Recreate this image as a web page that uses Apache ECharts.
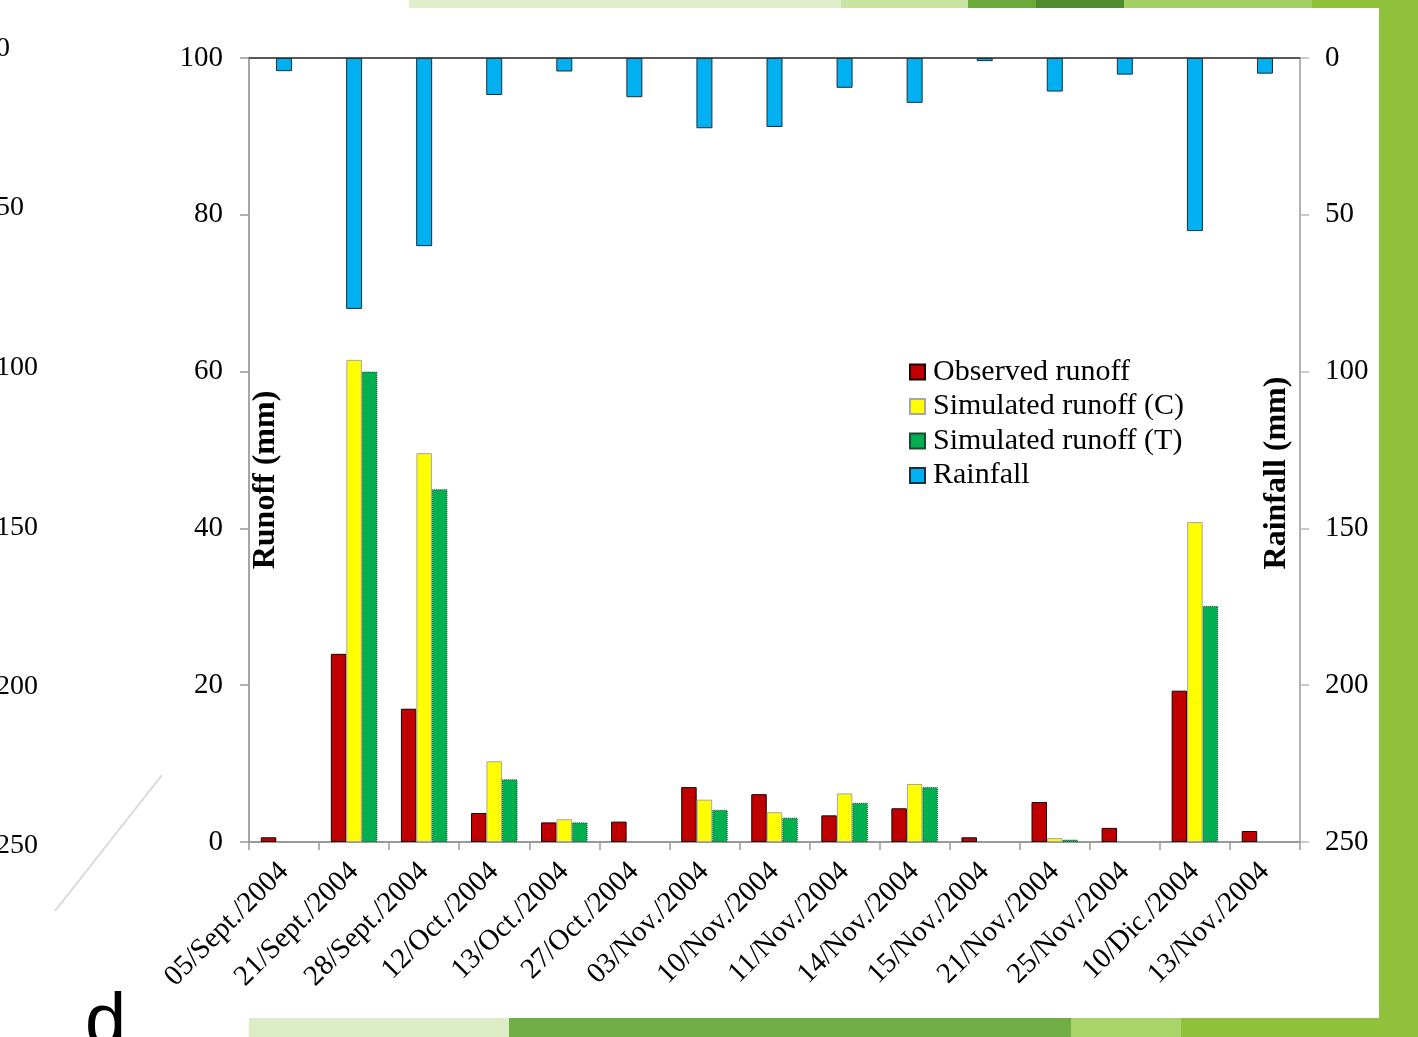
<!DOCTYPE html>
<html>
<head>
<meta charset="utf-8">
<script src="https://cdn.jsdelivr.net/npm/echarts@6/dist/echarts.min.js"></script>
<style>
html,body{margin:0;padding:0;background:#fff;}
#c{width:1418px;height:1037px;}
</style>
</head>
<body>
<div id="c"></div>
<script>
const categories = ['05/Sept./2004','21/Sept./2004','28/Sept./2004','12/Oct./2004','13/Oct./2004','27/Oct./2004','03/Nov./2004','10/Nov./2004','11/Nov./2004','14/Nov./2004','15/Nov./2004','21/Nov./2004','25/Nov./2004','10/Dic./2004','13/Nov./2004'];
const observedRunoff = [0.6, 24.0, 17.0, 3.7, 2.5, 2.6, 7.0, 6.1, 3.4, 4.3, 0.6, 5.1, 1.8, 19.3, 1.4];
const simulatedC = [null, 61.5, 49.6, 10.3, 2.9, null, 5.4, 3.8, 6.2, 7.4, null, 0.5, null, 40.8, null];
const simulatedT = [null, 60.0, 45.0, 8.0, 2.5, null, 4.1, 3.1, 5.0, 7.0, null, 0.3, null, 30.1, null];
const rainfall = [4.2, 80, 60, 11.8, 4.3, 12.5, 22.4, 22.0, 9.5, 14.3, 1.0, 10.7, 5.3, 55.2, 5.0];
const runoffTicks = {min: 0, max: 100, interval: 20};
const rainTicks = {min: 0, max: 250, interval: 50};
const strayTickLabels = ['0', '50', '100', '150', '200', '250'];

const serif = '"Liberation Serif", "Times New Roman", serif';
const chart = echarts.init(document.getElementById('c'), null, {renderer: 'canvas'});

const strayY = [49, 208, 368, 528, 687, 846];
const graphics = [
  // slide decoration bands
  {type:'rect', shape:{x:409,y:0,width:432,height:8}, style:{fill:'#dfeecb'}},
  {type:'rect', shape:{x:841,y:0,width:127,height:8}, style:{fill:'#c9e3a3'}},
  {type:'rect', shape:{x:968,y:0,width:68,height:8}, style:{fill:'#6aaa3a'}},
  {type:'rect', shape:{x:1036,y:0,width:88,height:8}, style:{fill:'#4f8b2b'}},
  {type:'rect', shape:{x:1124,y:0,width:188,height:8}, style:{fill:'#a2d065'}},
  {type:'rect', shape:{x:1312,y:0,width:106,height:8}, style:{fill:'#8fc13a'}},
  {type:'rect', shape:{x:1379,y:0,width:39,height:1037}, style:{fill:'#8fc13a'}},
  {type:'rect', shape:{x:249,y:1018,width:260,height:19}, style:{fill:'#dcedc6'}},
  {type:'rect', shape:{x:509,y:1018,width:562,height:19}, style:{fill:'#70ad44'}},
  {type:'rect', shape:{x:1071,y:1018,width:110,height:19}, style:{fill:'#a8d46a'}},
  {type:'rect', shape:{x:1181,y:1018,width:237,height:19}, style:{fill:'#8fc23a'}},
  {type:'line', shape:{x1:162,y1:775,x2:55,y2:911}, style:{stroke:'#d9d9d9', lineWidth:2}},
  {type:'text', x:85, y:1062, style:{text:'d', font:'74px "Liberation Sans", Arial, sans-serif', fill:'#000', textAlign:'left', textVerticalAlign:'bottom'}},
  // axis titles
  {type:'text', x:266, y:480, rotation:Math.PI/2, style:{text:'Runoff (mm)', font:'bold 32px ' + serif, fill:'#000', textAlign:'center', textVerticalAlign:'middle'}},
  {type:'text', x:1277, y:473, rotation:Math.PI/2, style:{text:'Rainfall (mm)', font:'bold 32px ' + serif, fill:'#000', textAlign:'center', textVerticalAlign:'middle'}}
];
strayTickLabels.forEach(function(t, i){
  graphics.push({type:'text', x:-4, y:strayY[i], style:{text:t, font:'28px ' + serif, fill:'#000', textAlign:'left', textVerticalAlign:'middle'}});
});

const option = {
  backgroundColor: '#ffffff',
  animation: false,
  textStyle: {fontFamily: serif},
  grid: {left: 249, right: 118, top: 58, bottom: 195, containLabel: false},
  legend: {
    orient: 'vertical', left: 909, top: 357, padding: 0,
    itemWidth: 15, itemHeight: 15, itemGap: 4.5,
    icon: 'rect',
    textStyle: {fontFamily: serif, fontSize: 30, color: '#000', padding: [0, 0, 0, 3]},
    data: ['Observed runoff', 'Simulated runoff (C)', 'Simulated runoff (T)', 'Rainfall']
  },
  xAxis: [
    {
      type: 'category', data: categories, position: 'bottom', boundaryGap: true,
      axisLine: {show: true, lineStyle: {color: '#999', width: 2}},
      axisTick: {show: true, interval: 0, length: 8, lineStyle: {color: '#999', width: 1.5}},
      axisLabel: {interval: 0, rotate: 45, margin: 25, fontFamily: serif, fontSize: 29, color: '#000'},
      splitLine: {show: false}
    },
    {
      type: 'category', data: categories, position: 'top', boundaryGap: true,
      axisLine: {show: true, onZero: false, lineStyle: {color: '#595959', width: 2}},
      axisTick: {show: false}, axisLabel: {show: false}, splitLine: {show: false}
    }
  ],
  yAxis: [
    {
      type: 'value', position: 'left', min: runoffTicks.min, max: runoffTicks.max, interval: runoffTicks.interval,
      axisLine: {show: true, lineStyle: {color: '#888', width: 1.5}},
      axisTick: {show: true, length: 9, lineStyle: {color: '#999', width: 1.5}},
      axisLabel: {margin: 26, fontFamily: serif, fontSize: 29, color: '#000'},
      splitLine: {show: false}
    },
    {
      type: 'value', position: 'right', inverse: true, min: rainTicks.min, max: rainTicks.max, interval: rainTicks.interval,
      axisLine: {show: true, lineStyle: {color: '#999', width: 1.5}},
      axisTick: {show: true, length: 9, lineStyle: {color: '#bbb', width: 1.5}},
      axisLabel: {margin: 25, fontFamily: serif, fontSize: 29, color: '#000'},
      splitLine: {show: false}
    }
  ],
  series: [
    {
      name: 'Observed runoff', type: 'bar', xAxisIndex: 0, yAxisIndex: 0,
      data: observedRunoff, barWidth: 15.5, barGap: '0%',
      itemStyle: {color: '#C00000', borderColor: '#1a0000', borderWidth: 1}
    },
    {
      name: 'Simulated runoff (C)', type: 'bar', xAxisIndex: 0, yAxisIndex: 0,
      data: simulatedC, barWidth: 15.5, barGap: '0%',
      itemStyle: {color: '#FFFF00', borderColor: '#a6a6a6', borderWidth: 1}
    },
    {
      name: 'Simulated runoff (T)', type: 'bar', xAxisIndex: 0, yAxisIndex: 0,
      data: simulatedT, barWidth: 15.5, barGap: '0%',
      itemStyle: {color: '#00B050', borderColor: '#1e4a2e', borderWidth: 1, borderType: 'dotted'}
    },
    {
      name: 'Rainfall', type: 'bar', xAxisIndex: 1, yAxisIndex: 1,
      data: rainfall, barWidth: 16,
      itemStyle: {color: '#00B0F0', borderColor: '#1c2e3a', borderWidth: 1}
    }
  ],
  graphic: graphics
};
chart.setOption(option);
</script>
</body>
</html>
